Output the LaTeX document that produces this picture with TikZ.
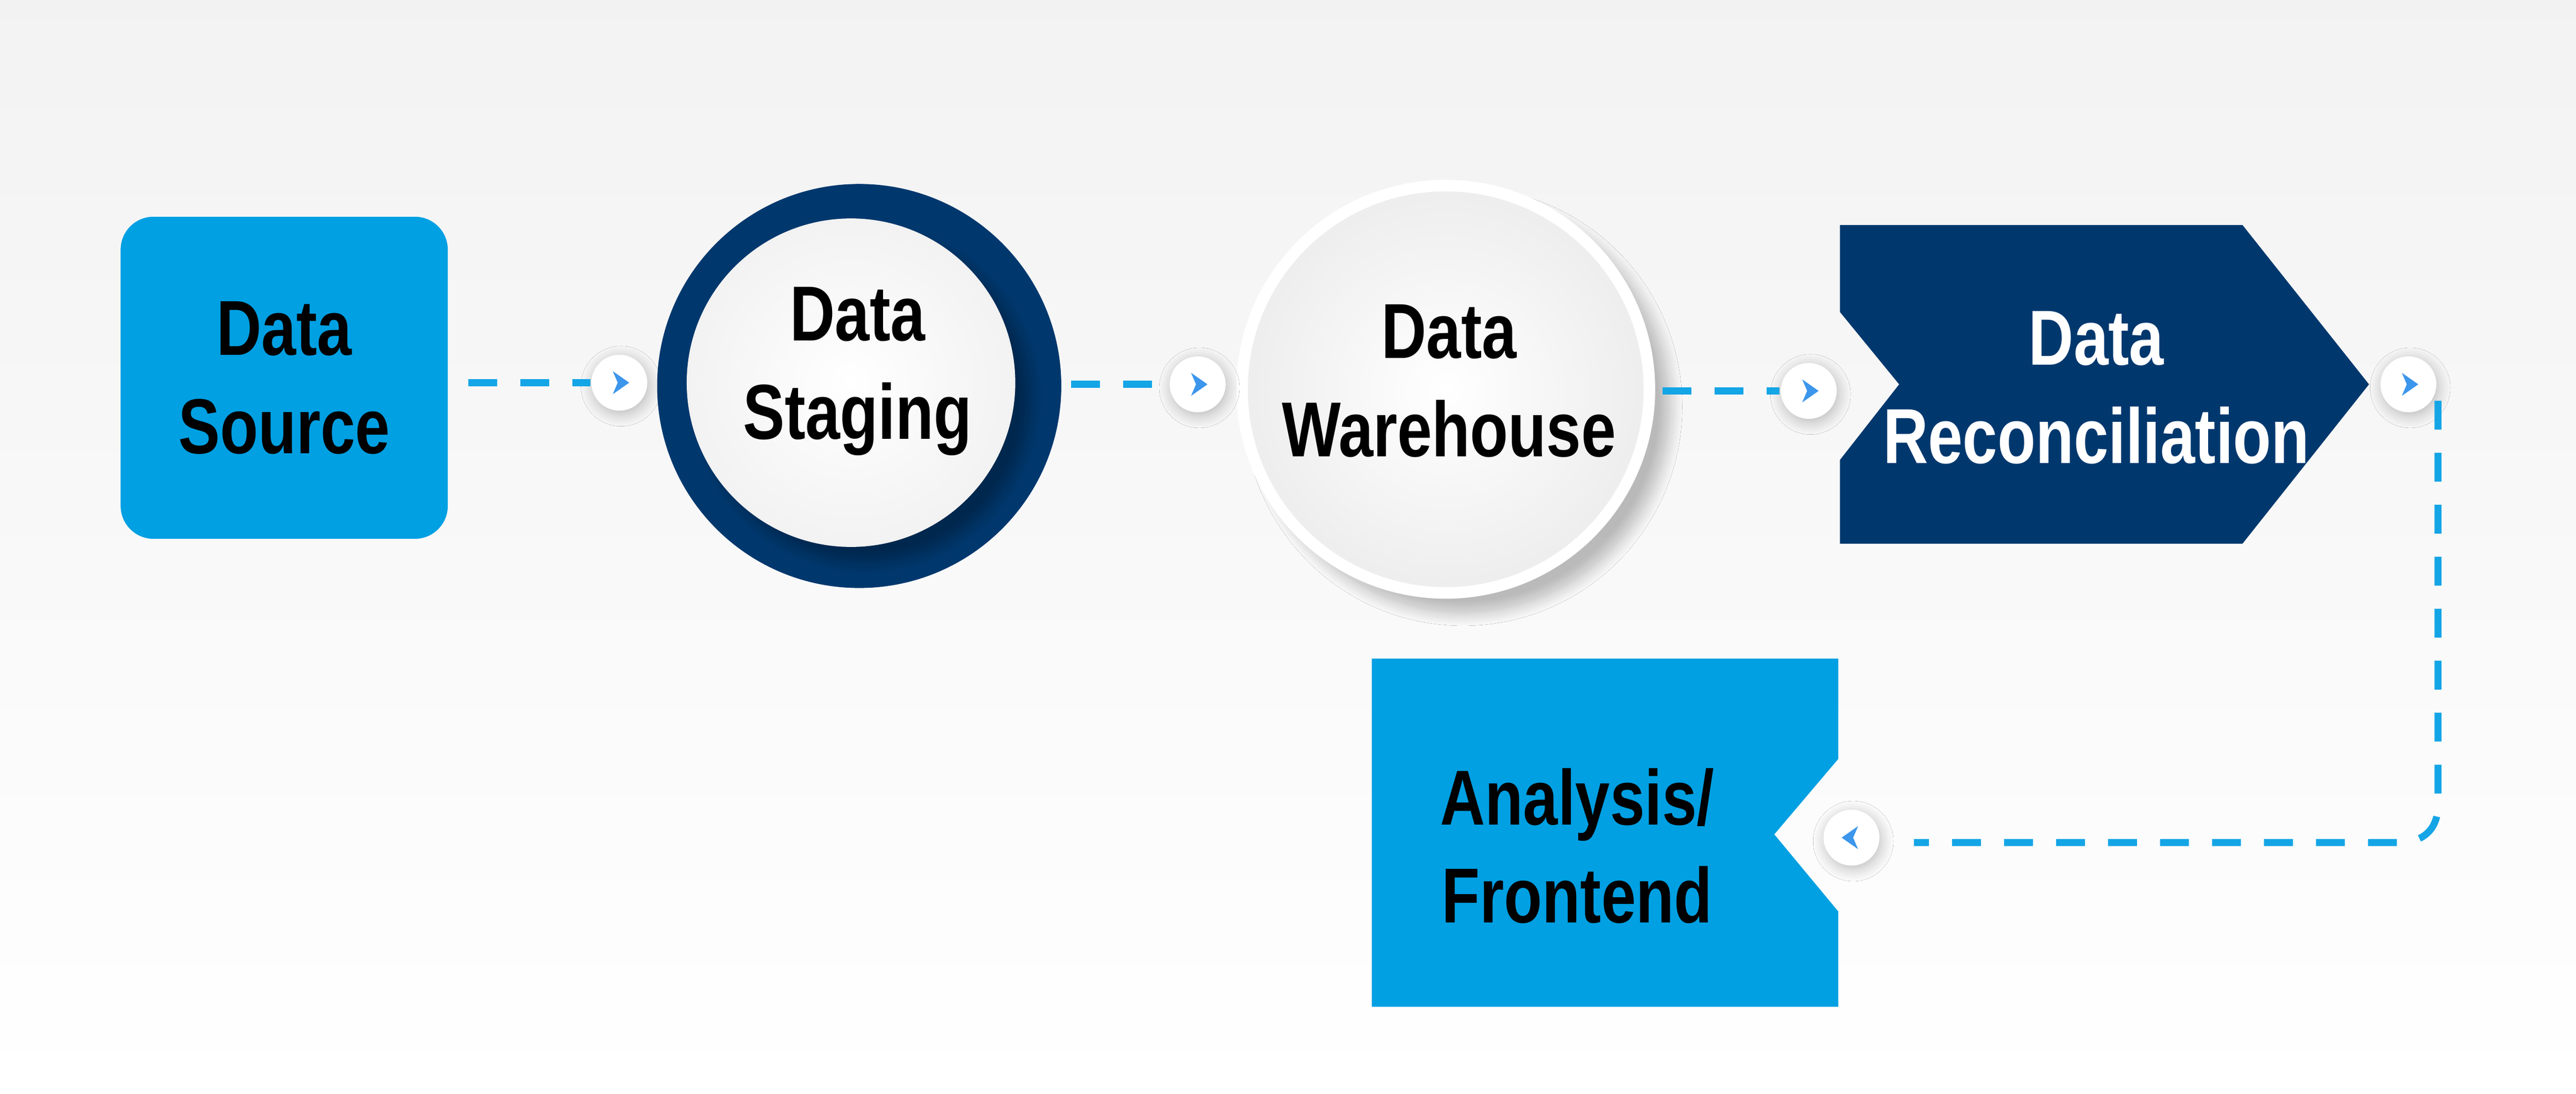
\documentclass[tikz,border=0pt]{standalone}
\usepackage{fontspec}
\setmainfont{Liberation Sans}[FakeStretch=0.8]
\usetikzlibrary{shadows.blur}
\definecolor{cblue}{RGB}{0,160,227}
\definecolor{navy}{RGB}{0,56,110}
\definecolor{abl}{RGB}{60,150,235}
\definecolor{dashc}{RGB}{20,165,230}
\begin{document}
\begin{tikzpicture}[x=0.01cm,y=-0.01cm,
  lbl/.style={font=\bfseries\fontsize{13.5}{16}\selectfont,align=center,text=black},
  con/.style={draw=dashc,line width=1.2pt,dash pattern=on 5pt off 4pt},
  ac/.style={circle,fill=white,minimum size=0.34cm,inner sep=0pt,blur shadow={shadow blur steps=6,shadow xshift=0.3pt,shadow yshift=-0.6pt,shadow opacity=25}},
  tip/.style={fill=abl}]
\useasboundingbox (0,0) rectangle (1568,666);
\shade[top color=gray!10,bottom color=white] (0,0) rectangle (1568,666);
% Data source
\node[fill=cblue,rounded corners=0.2cm,minimum width=1.99cm,minimum height=1.96cm,lbl] (src) at (173,230) {Data\\[1pt]Source};
% Staging
\fill[navy] (523,235) circle (123);
\shade[inner color=white,outer color=gray!10,blur shadow={shadow blur steps=8,shadow opacity=30}] (518,233) circle (100);
\node[lbl] (stg) at (522,226) {Data\\[1pt]Staging};
% Warehouse
\fill[gray!15,blur shadow={shadow blur steps=10,shadow xshift=3pt,shadow yshift=-3pt,shadow opacity=25}] (880,237) circle (126);
\shade[inner color=white,outer color=gray!14,draw=white,line width=2pt] (880,237) circle (124);
\node[lbl] (wh) at (882,232) {Data\\[1pt]Warehouse};
% Reconciliation
\fill[navy] (1120,137) -- (1365,137) -- (1442,234) -- (1365,331) -- (1120,331) -- (1120,280) -- (1156,234) -- (1120,190) -- cycle;
\node[lbl,text=white] (rec) at (1276,236) {Data\\[1pt]Reconciliation};
% Analysis
\fill[cblue] (835,401) -- (1119,401) -- (1119,462) -- (1080,508) -- (1119,555) -- (1119,613) -- (835,613) -- cycle;
\node[lbl] (ana) at (960,515) {Analysis/\\[1pt]Frontend};
% arrow circles
\node[ac] (a1) at (377,233) {};
\node[ac] (a2) at (729,234) {};
\node[ac] (a3) at (1101,238) {};
\node[ac] (a4) at (1466,234) {};
\node[ac] (a5) at (1127,510) {};
\foreach \n in {a1,a2,a3,a4}{\fill[tip] ([shift={(-4,-7)}]\n.center) -- ([shift={(6,0)}]\n.center) -- ([shift={(-4,7)}]\n.center) -- ([shift={(-1,0)}]\n.center) -- cycle;}
\fill[tip] ([shift={(4,-7)}]a5.center) -- ([shift={(-6,0)}]a5.center) -- ([shift={(4,7)}]a5.center) -- ([shift={(1,0)}]a5.center) -- cycle;
% connectors
\coordinate (c1) at (285,233); \coordinate (c2) at (652,234); \coordinate (c3) at (1012,238);
\coordinate (c4) at (1484,244); \coordinate (c5) at (1165,513);
\draw[con] (c1) -- (a1.west);
\draw[con] (c2) -- (a2.west);
\draw[con] (c3) -- (a3.west);
\draw[con] (c4) -- (1484,490) .. controls (1484,505) and (1475,513) .. (1460,513) -- (c5);
\end{tikzpicture}
\end{document}
